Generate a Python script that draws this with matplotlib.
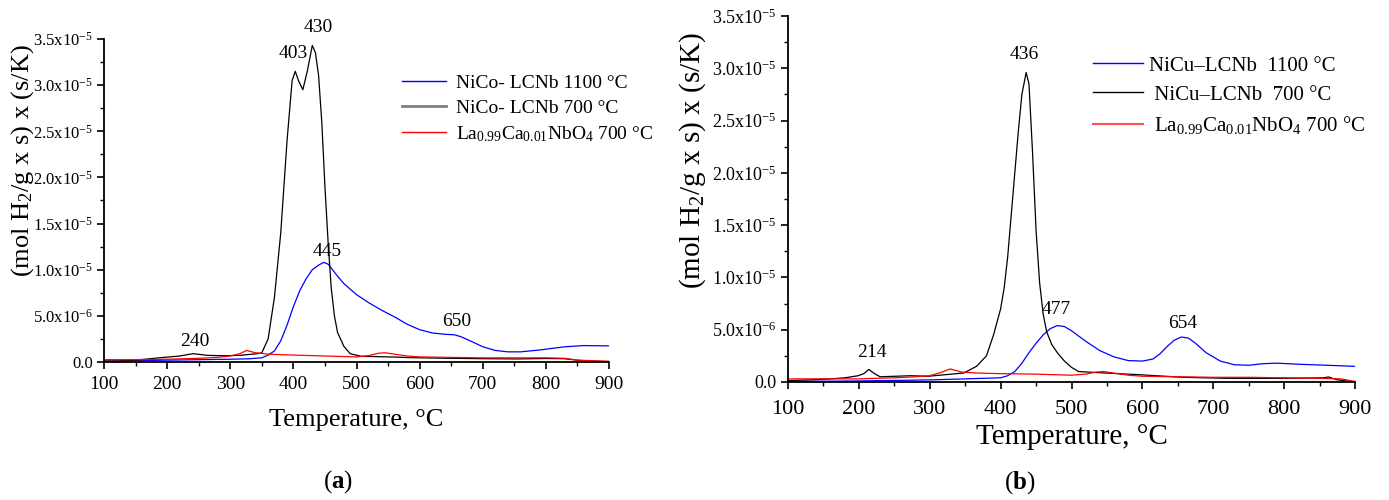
import numpy as np
import matplotlib
matplotlib.use("Agg")
import matplotlib.pyplot as plt
from matplotlib.lines import Line2D
from matplotlib.ticker import MultipleLocator, FuncFormatter

plt.rcParams["font.family"] = ["Liberation Serif", "DejaVu Serif"]
plt.rcParams["mathtext.fontset"] = "custom"
plt.rcParams["mathtext.rm"] = "Liberation Serif"
plt.rcParams["mathtext.it"] = "Liberation Serif:italic"
plt.rcParams["mathtext.bf"] = "Liberation Serif:bold"

# ---------------- (a) NiCo-LCNb : H2 consumption, units of 1e-6 mol H2/(g s) (s/K)
t_a_1100 = [100, 150, 200, 250, 300, 330, 350, 360, 370, 380, 390, 400, 410, 420, 430,
            440, 448, 455, 462, 470, 480, 490, 500, 520, 540, 560, 580, 600, 620, 640,
            655, 665, 680, 700, 720, 740, 760, 790, 830, 860, 900]
h_a_1100 = [0.1, 0.15, 0.2, 0.25, 0.3, 0.35, 0.45, 0.75, 1.2, 2.3, 4.0, 6.0, 7.7, 9.0, 10.0,
            10.5, 10.8, 10.6, 10.0, 9.3, 8.5, 7.9, 7.3, 6.4, 5.6, 4.9, 4.1, 3.5, 3.15, 3.0,
            2.95, 2.75, 2.3, 1.65, 1.25, 1.1, 1.1, 1.3, 1.65, 1.78, 1.75]

t_a_700 = [100, 120, 150, 190, 220, 241, 264, 290, 315, 343, 350, 360, 370, 380, 390,
           398, 403, 408, 415, 422, 430, 435, 440, 445, 450, 455, 460, 465, 470, 480,
           490, 507, 558, 586, 650, 699, 756, 800, 829, 852, 875, 900]
h_a_700 = [0.1, 0.1, 0.2, 0.47, 0.65, 0.9, 0.72, 0.68, 0.72, 0.9, 1.0, 2.5, 7.0, 14.0, 24.0,
           30.5, 31.5, 30.5, 29.5, 31.5, 34.3, 33.5, 31.0, 26.0, 19.0, 13.0, 8.0, 5.0, 3.2, 1.7,
           0.9, 0.62, 0.54, 0.47, 0.4, 0.36, 0.33, 0.38, 0.36, 0.18, 0.1, 0.03]

t_a_lcn = [100, 150, 200, 250, 280, 300, 315, 326, 340, 360, 400, 450, 500, 520, 535,
           545, 560, 580, 600, 650, 700, 750, 800, 830, 850, 870, 900]
h_a_lcn = [0.25, 0.25, 0.3, 0.4, 0.5, 0.65, 0.9, 1.25, 1.0, 0.85, 0.75, 0.65, 0.55, 0.7, 0.95,
           1.0, 0.85, 0.65, 0.55, 0.5, 0.45, 0.45, 0.45, 0.4, 0.2, 0.15, 0.08]

peaks_a = [240, 403, 430, 445, 650]
peak_a_pos = [(244, 2.2), (400, 33.4), (439, 36.3), (453, 12.0), (658, 4.4)]

# ---------------- (b) NiCu-LCNb
t_b_1100 = [100, 200, 300, 350, 400, 410, 420, 430, 440, 450, 460, 470, 480, 490, 500,
            510, 520, 540, 560, 580, 600, 615, 625, 635, 645, 655, 665, 675, 690, 710,
            730, 750, 770, 790, 820, 860, 900]
h_b_1100 = [0.05, 0.1, 0.2, 0.3, 0.4, 0.6, 1.0, 1.8, 2.8, 3.7, 4.5, 5.1, 5.4, 5.3, 4.9,
            4.4, 3.9, 3.0, 2.4, 2.05, 2.0, 2.2, 2.7, 3.4, 4.0, 4.3, 4.2, 3.7, 2.8, 2.0,
            1.65, 1.6, 1.75, 1.8, 1.7, 1.6, 1.5]

t_b_700 = [100, 150, 180, 199, 207, 214, 222, 230, 273, 298, 348, 366, 380, 390, 400,
           405, 410, 415, 420, 425, 430, 436, 440, 445, 450, 455, 460, 465, 472, 480,
           490, 500, 510, 550, 595, 657, 720, 800, 855, 863, 874, 900]
h_b_700 = [0.13, 0.25, 0.4, 0.6, 0.8, 1.2, 0.8, 0.5, 0.6, 0.55, 0.86, 1.5, 2.5, 4.5, 7.0,
           9.0, 12.0, 16.0, 20.0, 24.0, 27.5, 29.6, 28.5, 22.0, 14.5, 9.5, 6.5, 4.8, 3.6, 2.8,
           2.0, 1.4, 1.0, 0.85, 0.7, 0.45, 0.35, 0.35, 0.4, 0.48, 0.22, 0.0]

t_b_lcn = [100, 150, 200, 250, 280, 300, 315, 329, 345, 370, 400, 450, 500, 520, 535,
           546, 560, 580, 600, 650, 700, 750, 800, 850, 880, 900]
h_b_lcn = [0.3, 0.3, 0.3, 0.4, 0.5, 0.6, 0.9, 1.25, 0.95, 0.85, 0.8, 0.75, 0.65, 0.75, 0.95,
           1.0, 0.85, 0.65, 0.55, 0.5, 0.45, 0.45, 0.4, 0.35, 0.3, 0.05]

peaks_b = [214, 436, 477, 654]
peak_b_pos = [(218, 2.84), (433, 31.3), (478, 6.9), (657, 5.6)]

x_label = "Temperature, °C"
y_label = "(mol H$_2$/g x s) x (s/K)"
lcn_label = "La$_{0.99}$Ca$_{0.01}$NbO$_4$ 700 °C"
E6 = 1e-6


def sci_label(v, pos):
    if abs(v) < 1e-12:
        return "0.0"
    exp = int(np.floor(np.log10(abs(v)) + 1e-9))
    mant = v / 10 ** exp
    return f"{mant:.1f}x10$^{{{exp}}}$"


def style_axes(ax, xtick_size, ytick_size, pad_x):
    ax.set_xlim(100, 900)
    ax.set_ylim(0, 3.5e-5)
    ax.xaxis.set_major_locator(MultipleLocator(100))
    ax.xaxis.set_minor_locator(MultipleLocator(50))
    ax.yaxis.set_major_locator(MultipleLocator(5e-6))
    ax.yaxis.set_minor_locator(MultipleLocator(2.5e-6))
    ax.yaxis.set_major_formatter(FuncFormatter(sci_label))
    for s in ("top", "right"):
        ax.spines[s].set_visible(False)
    for s in ("left", "bottom"):
        ax.spines[s].set_linewidth(1.3)
    ax.tick_params(which="major", direction="out", length=5, width=1.2)
    ax.tick_params(which="minor", direction="out", length=3, width=1.0)
    ax.tick_params(axis="x", labelsize=xtick_size, pad=pad_x)
    ax.tick_params(axis="y", labelsize=ytick_size, pad=3)


fig = plt.figure(figsize=(13.89, 5.0), dpi=100)
ax1 = fig.add_axes([104 / 1389, 1 - 362 / 500, 505 / 1389, 323 / 500])
ax2 = fig.add_axes([788 / 1389, 1 - 382 / 500, 567 / 1389, 366 / 500])

# ---- panel (a)
ax1.plot(t_a_1100, np.array(h_a_1100) * E6, color="#0000ff", lw=0.9)
ax1.plot(t_a_700, np.array(h_a_700) * E6, color="black", lw=0.9)
ax1.plot(t_a_lcn, np.array(h_a_lcn) * E6, color="#ff0000", lw=0.9)
style_axes(ax1, 14, 12, 5)
for lab, (px, py) in zip(peaks_a, peak_a_pos):
    ax1.text(px, py * E6, str(lab), ha="center", va="center", fontsize=14, clip_on=False)
ax1.set_xlabel(x_label, fontsize=19, va="center")
ax1.xaxis.set_label_coords(0.5, -0.18)
ax1.set_ylabel(y_label, fontsize=19, va="center", ha="center")
ax1.yaxis.set_label_coords(-0.162, 0.625)
handles_a = [Line2D([], [], color="#0000ff", lw=1.0),
             Line2D([], [], color="#808080", lw=2.0),
             Line2D([], [], color="#ff0000", lw=1.0)]
labels_a = ["NiCo- LCNb 1100 °C", "NiCo- LCNb 700 °C", lcn_label]
ax1.legend(handles_a, labels_a, loc="upper left", frameon=False, fontsize=14,
           bbox_to_anchor=(402 / 1389, 1 - 74 / 500), bbox_transform=fig.transFigure,
           borderpad=0, borderaxespad=0, handlelength=2.25, handletextpad=0.55,
           labelspacing=0.38)
fig.text(338 / 1389, 1 - 482 / 500, r"($\mathbf{a}$)", ha="center", va="center", fontsize=18)

# ---- panel (b)
ax2.plot(t_b_1100, np.array(h_b_1100) * E6, color="#0000ff", lw=0.9)
ax2.plot(t_b_700, np.array(h_b_700) * E6, color="black", lw=0.9)
ax2.plot(t_b_lcn, np.array(h_b_lcn) * E6, color="#ff0000", lw=0.9)
style_axes(ax2, 16, 13, 8)
for lab, (px, py) in zip(peaks_b, peak_b_pos):
    ax2.text(px, py * E6, str(lab), ha="center", va="center", fontsize=14, clip_on=False)
ax2.set_xlabel(x_label, fontsize=21, va="center")
ax2.xaxis.set_label_coords(0.5, -0.15)
ax2.set_ylabel(y_label, fontsize=21, va="center", ha="center")
ax2.yaxis.set_label_coords(-0.168, 0.604)
handles_b = [Line2D([], [], color="#0000ff", lw=1.0),
             Line2D([], [], color="black", lw=1.0),
             Line2D([], [], color="#ff5050", lw=1.5)]
labels_b = ["NiCu–LCNb  1100 °C", " NiCu–LCNb  700 °C", " " + lcn_label]
ax2.legend(handles_b, labels_b, loc="upper left", frameon=False, fontsize=15,
           bbox_to_anchor=(1093 / 1389, 1 - 56 / 500), bbox_transform=fig.transFigure,
           borderpad=0, borderaxespad=0, handlelength=2.4, handletextpad=0.3,
           labelspacing=0.45)
fig.text(1020 / 1389, 1 - 483 / 500, r"($\mathbf{b}$)", ha="center", va="center", fontsize=18)

fig.savefig("out.png", dpi=100)
